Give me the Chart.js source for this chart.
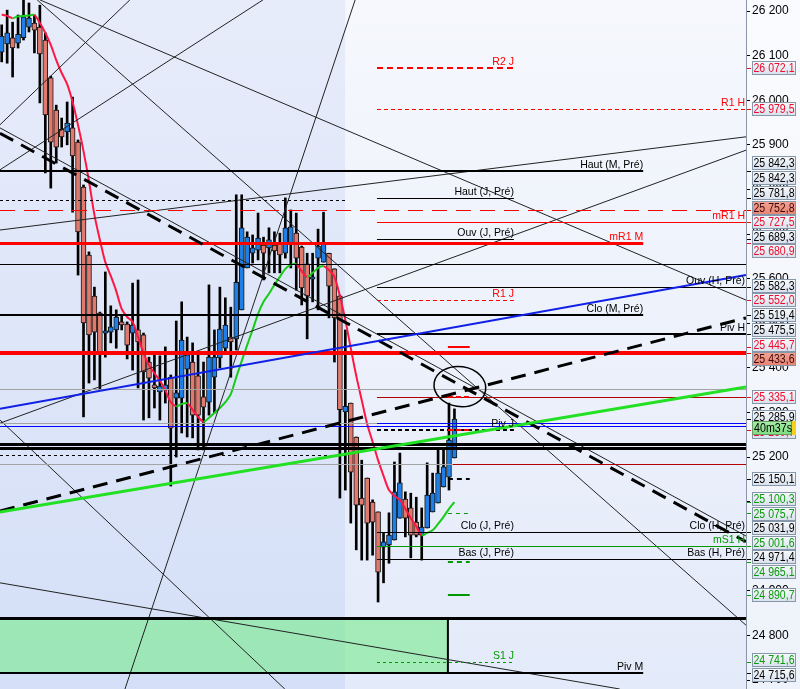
<!DOCTYPE html>
<html>
<head>
<meta charset="utf-8">
<script src="https://cdn.jsdelivr.net/npm/chart.js@4.4.1/dist/chart.umd.min.js"></script>
<style>
  html, body { margin: 0; padding: 0; background: #fafbfe; }
</style>
</head>
<body>
<canvas id="chart" width="800" height="689"></canvas>
<script>
// candles (one per bar, oldest first)
const opens = [26108,26126,26140,26128,26140,26164,26173,26164,26135,26050,
  25978,25935,25929,25938,25906,25805,25653,25561,25523,25478,
  25480,25485,25503,25498,25478,25485,25474,25413,25362,25346,
  25350,25379,25332,25332,25397,25413,25382,25335,25323,25379,
  25422,25444,25469,25465,25530,25624,25657,25664,25675,25669,
  25675,25680,25657,25680,25702,25671,25633,25599,25646,25637,
  25657,25622,25561,25301,25321,25245,25108,25153,25099,25077,
  24998,25003,25014,25063,25106,25086,25054,25025,25041,25077,
  25097,25133,25155,25198];
const highs = [26169,26202,26175,26191,26236,26218,26191,26213,26151,26054,
  25989,25960,25996,26007,25911,25810,25660,25581,25525,25615,
  25539,25530,25519,25503,25590,25597,25478,25424,25436,25427,
  25447,25384,25505,25548,25469,25456,25433,25413,25586,25485,
  25581,25557,25536,25788,25788,25705,25698,25747,25693,25714,
  25705,25702,25781,25754,25747,25673,25657,25657,25711,25749,
  25657,25622,25563,25485,25321,25245,25193,25153,25104,25077,
  25030,25075,25189,25209,25122,25119,25110,25086,25187,25164,
  25216,25216,25321,25308];
const lows = [26086,26083,26052,26117,26135,26153,26106,25994,25837,25803,
  25859,25895,25900,25749,25608,25290,25366,25373,25350,25424,
  25456,25444,25485,25420,25395,25355,25283,25288,25310,25283,
  25321,25135,25200,25254,25245,25243,25216,25216,25294,25299,
  25400,25433,25379,25440,25530,25624,25635,25642,25597,25613,
  25613,25613,25646,25624,25574,25541,25465,25548,25530,25637,
  25512,25413,25108,25126,25052,24992,24969,24969,24980,24875,
  24918,24962,25014,25063,25021,24974,25021,24969,25041,25077,
  25097,25133,25126,25198];
const closes = [26144,26151,26117,26148,26187,26184,26157,26104,25967,25906,
  25895,25918,25949,25875,25705,25501,25474,25480,25433,25483,
  25492,25514,25496,25451,25496,25458,25391,25377,25355,25359,
  25362,25265,25344,25462,25429,25294,25294,25312,25424,25424,
  25487,25496,25458,25592,25714,25693,25669,25691,25657,25687,
  25662,25653,25714,25716,25646,25579,25561,25604,25673,25680,
  25583,25512,25306,25314,25166,25092,25092,25052,25054,24942,
  25010,25025,25122,25142,25063,25025,25025,25043,25115,25119,
  25164,25178,25238,25285];
// moving average
const movingAvg = [26192,26189,26184,26188,26189,26190,26191,26173,26151,26124,
  26090,26061,26036,25996,25944,25886,25819,25743,25687,25637,
  25606,25572,25532,25514,25503,25469,25433,25406,25388,25371,
  25350,25323,25314,25319,25321,25306,25290,25279,25288,25299,
  25310,25323,25341,25379,25415,25451,25485,25521,25548,25566,
  25586,25604,25622,25631,25633,25617,25604,25613,25624,25628,
  25619,25604,25561,25507,25444,25382,25328,25274,25234,25193,
  25158,25126,25113,25104,25084,25063,25045,25025,25030,25036,
  25050,25066,25084,25099];

const yTicks = [24700,24800,24900,25000,25100,25200,25300,25400,25500,25600,25700,25800,25900,26000,26100,26200];

// horizontal levels
const levelPrices = [26072.1,25979.5,25842.3,25781.8,25776,25752.8,25727.5,25689.3,25680.9,25632,
  25582.3,25552.0,25519.4,25475.5,25445.7,25433.6,25352,25335.1,25335.1,25276,
  25276,25270,25260.7,25260.7,25228.6,25219.6,25204,25184,25184,25150.1,
  25075.7,25031.9,25031.9,25001.6,24971.4,24971.4,24965.1,24890.7,24839,24741.6,24715.6];
const levelNames = ['R2 J','R1 H','Haut (M, Pré)','Haut (J, Pré)','','','mR1 H','Ouv (J, Pré)','mR1 M','',
  'Ouv (H, Pré)','R1 J','Clo (M, Pré)','Piv H','','','','','','',
  '','','Piv J','','','','','','','',
  '','Clo (J, Pré)','Clo (H, Pré)','mS1 H','Bas (J, Pré)','Bas (H, Pré)','','','','S1 J','Piv M'];

// price tags on the right axis
const tagPrices = [26072.1,25979.5,25842.3,25842.3,25781.8,25752.8,25727.5,25689.3,25680.9,25582.3,
  25552.0,25519.4,25475.5,25445.7,25433.6,25335.1,25285.9,25260.7,25150.1,25100.3,
  25075.7,25031.9,25001.6,24971.4,24965.1,24890.7,24741.6,24715.6];
const countdownText = '40m37s';
const countdownPrice = 25265;

// drawn objects, in [bar, price] units
const trendLines = [
  [-0.31, 25926, 136.45, 25010],
  [-0.31, 25079, 136.45, 25512],
  [-0.31, 25077, 136.45, 25357],
  [-0.31, 25308, 136.45, 25608],
  [-0.31, 25938, 136.45, 25023],
  [7.0, 26225, 136.45, 25552],
  [6.5, 26225, 136.45, 24823],
  [-0.31, 25709, 136.45, 25918],
  [-0.31, 25276, 136.45, 25888],
  [-0.31, 25945, 23.5, 26225],
  [-0.31, 25844, 47.9, 26225],
  [-0.31, 25283, 51.9, 24680],
  [-0.31, 24918, 113.3, 24680],
  [22.6, 24680, 64.8, 26225]
];
const zoneBox = [-0.31, 81.8, 24839, 24715.6];
const circleMark = [84, 25358];

// ---- styles ----
const X_MIN = -0.31, X_MAX = 136.45, Y_MIN = 24680, Y_MAX = 26224.7;
const SESSION = 63;
const UP = '#1f7fe6', DOWN = '#e07a6e';
const MA_UP = '#16cc16', MA_DOWN = '#ff1744';
const RED = '#ff0000', BLK = '#000000', GRY = '#a4a4a4', DRD = '#b00000', BLU = '#0000ff', GRN = '#009a00';
const FAMILY = '"Liberation Sans", Arial, sans-serif';
const LABEL_FONT = '10.5px ' + FAMILY;
const TAG_FONT = '12px ' + FAMILY;

const anchor = { L: X_MIN, P: SESSION, S: 68.8, A: 81.8, Q: 82.7, B: 85.8, J: 93.9, M: 117.6, R: X_MAX };
// color, width, dash, from, to
const levelStyle = [
  [RED,2,[6,4],'S','J'], [RED,1,[4,3],'S','R'], [BLK,2,[],'L','M'], [BLK,1,[],'S','J'], [BLK,1,[3,3],'L','P'],
  [RED,1,[15,9],'L','R'], [RED,1,[],'S','R'], [BLK,1,[],'S','J'], [RED,3,[],'L','M'], [BLK,1,[],'L','R'],
  [BLK,1,[],'S','R'], [RED,1,[4,3],'S','J'], [BLK,2,[],'L','M'], [BLK,2,[],'S','R'], [RED,2,[],'A','B'],
  [RED,4,[],'L','R'], [GRY,1,[],'L','R'], [DRD,1,[],'S','R'], [RED,2,[5,3],'A','B'], [GRY,1,[],'L','S'],
  [BLU,1,[],'S','R'], [BLU,1,[],'L','R'], [BLK,2,[4,3],'S','J'], [RED,2,[5,3],'A','B'], [BLK,3,[],'L','R'],
  [BLK,3,[],'L','R'], [BLK,1,[3,3],'L','P'], [GRY,1,[],'L','Q'], [DRD,1,[],'Q','R'], [BLK,2,[5,4],'A','B'],
  [GRN,1,[4,4],'A','B'], [BLK,1,[],'S','J'], [BLK,1,[],'J','R'], [GRN,1,[],'S','R'], [BLK,1,[],'S','J'],
  [BLK,1,[],'J','R'], [GRN,2,[5,4],'A','B'], [GRN,2,[],'A','B'], [BLK,3,[],'L','R'], [GRN,1,[3,3],'S','J'],
  [BLK,2,[],'L','M']
];
const trendStyle = [
  ['#000',3,[15,9]], ['#000',3,[15,9]], ['#22e022',3,[]], ['#1020e6',2,[]]
];
const THIN = ['#222',1,[]];
const tagKinds = ['r','r','k','k','k','s','r','k','r','k','r','k','k','r','s','r','k','r','k','g','g','k','g','k','g','g','g','k'];
const tagText = { r: '#ee0c2c', k: '#000', g: '#0a9a0a', s: '#3a0a0a' };

const fmtInt = v => String(Math.round(v)).replace(/\B(?=(\d{3})+(?!\d))/g, ' ');
const fmtPrice = p => {
  const [a, b] = p.toFixed(1).split('.');
  return a.replace(/\B(?=(\d{3})+(?!\d))/g, ' ') + ',' + b;
};

const bars = opens.map((_, i) => i);
const bodyData = bars.map(i => ({ x: i, y: [Math.min(opens[i], closes[i]), Math.max(opens[i], closes[i])] }));
const wickData = bars.map(i => ({ x: i, y: [lows[i], highs[i]] }));
const bodyColors = bars.map(i => closes[i] >= opens[i] ? UP : DOWN);
const maData = bars.map(i => ({ x: i, y: movingAvg[i] }));

const background = {
  id: 'background',
  beforeDraw(chart) {
    const { ctx, chartArea: a, width, height } = chart;
    const sx = chart.scales.x.getPixelForValue(SESSION);
    ctx.save();
    let g = ctx.createLinearGradient(0, 0, 0, height);
    g.addColorStop(0, '#fafbfe'); g.addColorStop(1, '#eef2fa');
    ctx.fillStyle = g; ctx.fillRect(0, 0, width, height);
    g = ctx.createLinearGradient(0, a.top, 0, a.bottom);
    g.addColorStop(0, '#e7ecfa'); g.addColorStop(1, '#d4dff7');
    ctx.fillStyle = g; ctx.fillRect(a.left, a.top, sx - a.left, a.bottom - a.top);
    g = ctx.createLinearGradient(0, a.top, 0, a.bottom);
    g.addColorStop(0, '#f6f8fd'); g.addColorStop(1, '#e3eaf9');
    ctx.fillStyle = g; ctx.fillRect(sx, a.top, a.right - sx, a.bottom - a.top);
    ctx.restore();
  }
};

function seg(ctx, x0, y0, x1, y1, color, w, dash) {
  ctx.beginPath();
  ctx.strokeStyle = color; ctx.lineWidth = w; ctx.setLineDash(dash);
  ctx.moveTo(x0, y0); ctx.lineTo(x1, y1); ctx.stroke();
}

const overlay = {
  id: 'overlay',
  afterDatasetsDraw(chart) {
    const { ctx, chartArea: a } = chart;
    const X = v => chart.scales.x.getPixelForValue(v);
    const Y = v => chart.scales.y.getPixelForValue(v);
    ctx.save();
    ctx.beginPath(); ctx.rect(a.left, a.top, a.right - a.left, a.bottom - a.top); ctx.clip();

    // green zone
    const zx0 = X(zoneBox[0]), zx1 = X(zoneBox[1]), zy0 = Y(zoneBox[2]), zy1 = Y(zoneBox[3]);
    ctx.fillStyle = 'rgba(120, 235, 140, 0.6)';
    ctx.fillRect(zx0, zy0, zx1 - zx0, zy1 - zy0);
    seg(ctx, zx1, zy0, zx1, zy1, '#000', 2, []);

    // thin trend lines
    trendLines.forEach((t, k) => {
      if (k < trendStyle.length) return;
      seg(ctx, X(t[0]), Y(t[1]), X(t[2]), Y(t[3]), THIN[0], THIN[1], THIN[2]);
    });

    // levels
    levelPrices.forEach((p, k) => {
      const [color, w, dash, from, to] = levelStyle[k];
      const y = Math.round(Y(p)) + (w % 2 ? 0.5 : 0);
      seg(ctx, X(anchor[from]), y, X(anchor[to]), y, color, w, dash);
    });

    // thick trend lines
    trendLines.forEach((t, k) => {
      if (k >= trendStyle.length) return;
      const [c, w, d] = trendStyle[k];
      seg(ctx, X(t[0]), Y(t[1]), X(t[2]), Y(t[3]), c, w, d);
    });

    // hand drawn circle
    ctx.setLineDash([]);
    ctx.beginPath();
    ctx.strokeStyle = '#000'; ctx.lineWidth = 1.5;
    ctx.ellipse(X(circleMark[0]), Y(circleMark[1]), 26, 20, 0.15, 0, Math.PI * 2);
    ctx.stroke();

    // level labels
    ctx.font = LABEL_FONT;
    ctx.textAlign = 'right';
    ctx.textBaseline = 'alphabetic';
    levelPrices.forEach((p, k) => {
      const name = levelNames[k];
      if (!name) return;
      const [color, , , , to] = levelStyle[k];
      const x = to === 'R' ? a.right - 1 : X(anchor[to]);
      ctx.fillStyle = color;
      ctx.fillText(name, x, Math.round(Y(p)) - 3);
    });
    ctx.restore();
  }
};

const tags = {
  id: 'tags',
  afterDraw(chart) {
    const { ctx, chartArea: a } = chart;
    const Y = v => chart.scales.y.getPixelForValue(v);
    const ys = tagPrices.map(Y);
    const pos = ys.slice();
    const GAP = 14.5;
    for (let it = 0; it < 80; it++) {
      for (let k = 0; k < pos.length - 1; k++) {
        const d = pos[k + 1] - pos[k];
        if (d < GAP) { const s = (GAP - d) / 2; pos[k] -= s; pos[k + 1] += s; }
      }
    }
    const x0 = a.right + 6, w = 44, h = 14;
    ctx.save();
    ctx.font = TAG_FONT;
    ctx.textAlign = 'left';
    ctx.textBaseline = 'middle';
    tagPrices.forEach((p, k) => {
      const kind = tagKinds[k];
      const color = tagText[kind];
      const ty = Math.round(ys[k]) + 0.5;
      seg(ctx, a.right + 1, ty, a.right + 5, ty, kind === 's' ? RED : color, 1, []);
      const top = Math.round(pos[k] - h / 2);
      let g = ctx.createLinearGradient(0, top, 0, top + h);
      if (kind === 's') { g.addColorStop(0, '#f5a494'); g.addColorStop(1, '#e98272'); }
      else { g.addColorStop(0, '#f8fafd'); g.addColorStop(1, '#d8e0ec'); }
      ctx.fillStyle = g;
      ctx.fillRect(x0, top, w, h);
      ctx.setLineDash([]);
      ctx.strokeStyle = '#8797aa'; ctx.lineWidth = 1;
      ctx.strokeRect(x0 + 0.5, top + 0.5, w - 1, h - 1);
      ctx.fillStyle = color;
      ctx.fillText(fmtPrice(p), x0 + 1.5, top + h / 2 + 0.5, w - 3);
    });

    // bar countdown
    const cy = Math.round(Y(countdownPrice) - h / 2);
    let g = ctx.createLinearGradient(0, cy, 0, cy + h);
    g.addColorStop(0, '#a6eea6'); g.addColorStop(1, '#7edc7e');
    ctx.fillStyle = g; ctx.fillRect(x0, cy, w - 4, h);
    ctx.fillStyle = '#f2d21a'; ctx.fillRect(x0 + w - 4, cy, 4, h);
    ctx.strokeStyle = '#6a9a6a'; ctx.strokeRect(x0 + 0.5, cy + 0.5, w - 5, h - 1);
    ctx.fillStyle = '#000';
    ctx.fillText(countdownText, x0 + 2, cy + h / 2 + 0.5, w - 6);
    ctx.restore();
  }
};

new Chart(document.getElementById('chart'), {
  type: 'bar',
  data: {
    datasets: [
      {
        type: 'line', data: maData, borderWidth: 2, pointRadius: 0, tension: 0.3, order: 0,
        borderColor: MA_DOWN,
        segment: { borderColor: c => c.p1.parsed.y < c.p0.parsed.y ? MA_DOWN : MA_UP }
      },
      {
        data: bodyData, backgroundColor: bodyColors, borderColor: '#151515', borderWidth: 1,
        borderSkipped: false, barThickness: 5, grouped: false, minBarLength: 2, order: 1
      },
      {
        data: wickData, backgroundColor: '#000', borderWidth: 0,
        barThickness: 2, grouped: false, order: 2
      }
    ]
  },
  options: {
    responsive: false,
    animation: false,
    events: [],
    layout: { padding: 0 },
    plugins: { legend: { display: false }, tooltip: { enabled: false } },
    scales: {
      x: { type: 'linear', min: X_MIN, max: X_MAX, display: false, offset: false },
      y: {
        position: 'right', min: Y_MIN, max: Y_MAX,
        afterBuildTicks: s => { s.ticks = yTicks.map(v => ({ value: v })); },
        afterFit: s => { s.width = 54; s.paddingTop = 0; s.paddingBottom = 0; },
        grid: { drawOnChartArea: false, color: '#000', tickLength: 4 },
        border: { color: '#8a96a6' },
        ticks: {
          color: '#000', padding: 2, autoSkip: false,
          font: { size: 12, family: FAMILY },
          callback: v => fmtInt(v)
        }
      }
    }
  },
  plugins: [background, overlay, tags]
});
</script>
</body>
</html>
